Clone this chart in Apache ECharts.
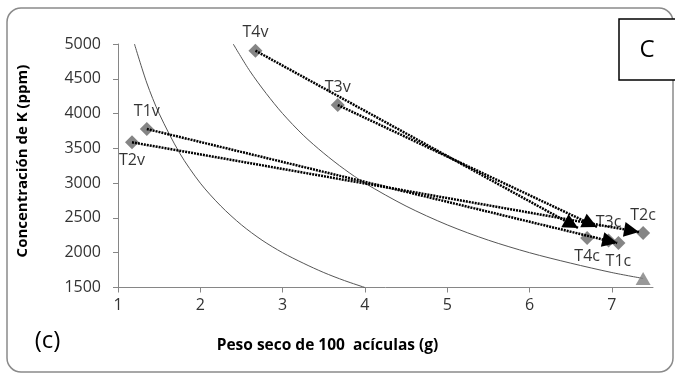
<!DOCTYPE html>
<html>
<head>
<meta charset="utf-8">
<script src="https://cdn.jsdelivr.net/npm/echarts@6/dist/echarts.min.js"></script>
<style>
  html, body { margin: 0; padding: 0; background: #fff; }
  #chart { width: 675px; height: 375px; }
</style>
</head>
<body>
<div id="chart"></div>
<script>
// ---- data ----
const xTicks = [1, 2, 3, 4, 5, 6, 7];
const yTicks = [1500, 2000, 2500, 3000, 3500, 4000, 4500, 5000];

const treatments = ['T1', 'T2', 'T3', 'T4'];
// starting points ("v")
const vWeight = [1.35, 1.17, 3.67, 2.67];
const vConc   = [3778, 3587, 4123, 4904];
// end points ("c")
const cWeight = [7.08, 7.38, 6.96, 6.70];
const cConc   = [2140, 2283, 2176, 2211];
// arrow tips
const arrowWeight = [7.065, 7.33, 6.82, 6.59];
const arrowConc   = [2140, 2298, 2370, 2355];
// reference point (triangle)
const refWeight = [7.38];
const refConc   = [1630];
// iso-content curves
const curve1X = [1.2, 1.35, 1.5, 1.75, 2.0, 2.25, 2.5, 2.75, 3.0, 3.25, 3.5, 3.75, 4.0];
const curve1Y = [5000, 4440, 4000, 3430, 3000, 2670, 2400, 2180, 2000, 1850, 1715, 1600, 1500];
const curve2X = [2.4, 2.6, 2.8, 3.0, 3.25, 3.5, 3.75, 4.0, 4.5, 5.0, 5.5, 6.0, 6.5, 7.0, 7.38];
const curve2Y = [5000, 4615, 4290, 4000, 3690, 3430, 3200, 3000, 2670, 2400, 2180, 2000, 1850, 1715, 1630];

// ---- chart ----
const FONT = '"Open Sans", sans-serif';
const vLabelPos = ['top', 'bottom', 'top', 'top'];
const cLabelPos = ['bottom', 'top', 'top', 'bottom'];

const zip = (xs, ys) => xs.map((x, i) => [x, ys[i]]);

const chart = echarts.init(document.getElementById('chart'), null, { renderer: 'canvas' });

const labelStyle = { show: true, color: '#000', fontSize: 16, fontFamily: FONT, distance: 3 };

const option = {
  animation: false,
  backgroundColor: '#fff',
  grid: { left: 118, right: 22, top: 44, bottom: 87.5, containLabel: false },
  xAxis: {
    type: 'value', min: 1, max: 7.5, interval: 1,
    axisLine: { show: true, lineStyle: { color: '#868686', width: 1 } },
    axisTick: { show: true, length: 5, lineStyle: { color: '#868686' }, customValues: xTicks },
    axisLabel: { color: '#333', fontSize: 16, fontFamily: FONT, margin: 10, customValues: xTicks,
                 formatter: v => String(v) },
    splitLine: { show: false }
  },
  yAxis: {
    type: 'value', min: 1500, max: 5000, interval: 500,
    axisLine: { show: true, lineStyle: { color: '#868686', width: 1 } },
    axisTick: { show: true, length: 5, lineStyle: { color: '#868686' }, customValues: yTicks },
    axisLabel: { color: '#333', fontSize: 16, fontFamily: FONT, margin: 17, customValues: yTicks,
                 formatter: v => String(v) },
    splitLine: { show: false }
  },
  series: [
    {
      type: 'line', data: zip(curve1X, curve1Y), smooth: 0.3, showSymbol: false, z: 1,
      lineStyle: { color: '#555', width: 1 }, silent: true
    },
    {
      type: 'line', data: zip(curve2X, curve2Y), smooth: 0.3, showSymbol: false, z: 1,
      lineStyle: { color: '#555', width: 1 }, silent: true
    },
    {
      type: 'scatter', symbol: 'diamond', symbolSize: 14, z: 2,
      itemStyle: { color: '#666' },
      data: treatments.map((t, i) => ({
        value: [vWeight[i], vConc[i]],
        label: Object.assign({}, labelStyle, { position: vLabelPos[i], formatter: t + 'v' })
      }))
    },
    {
      type: 'scatter', symbol: 'diamond', symbolSize: 14, z: 2,
      itemStyle: { color: '#666' },
      data: treatments.map((t, i) => ({
        value: [cWeight[i], cConc[i]],
        label: Object.assign({}, labelStyle, { position: cLabelPos[i], formatter: t + 'c' })
      }))
    },
    {
      type: 'scatter', symbol: 'triangle', symbolSize: [15, 13], z: 2,
      itemStyle: { color: '#808080' },
      data: zip(refWeight, refConc)
    },
    {
      type: 'scatter', data: [], z: 3,
      markLine: {
        silent: true, animation: false,
        symbol: ['none', 'triangle'],
        symbolSize: 15,
        symbolOffset: [0, [0, 7.5]],
        label: { show: false },
        lineStyle: { color: '#000', width: 2.5, type: [2, 1] },
        emphasis: { disabled: true },
        data: treatments.map((t, i) => [
          { coord: [vWeight[i], vConc[i]] },
          { coord: [arrowWeight[i], arrowConc[i]] }
        ])
      }
    }
  ],
  graphic: [
    {
      type: 'rect', z: -10, silent: true,
      shape: { x: 7, y: 8, width: 666, height: 364, r: 14 },
      style: { fill: 'none', stroke: '#8a8a8a', lineWidth: 1.5 }
    },
    {
      type: 'rect', z: 10, silent: true,
      shape: { x: 619, y: 19, width: 70, height: 61 },
      style: { fill: '#fff', stroke: '#000', lineWidth: 1.5 }
    },
    {
      type: 'text', z: 11, x: 647, y: 50, silent: true,
      style: { text: 'C', fill: '#000', font: '24px ' + FONT, align: 'center', verticalAlign: 'middle' }
    },
    {
      type: 'text', z: 11, x: 47.5, y: 341, silent: true,
      style: { text: '(c)', fill: '#000', font: '24px ' + FONT, align: 'center', verticalAlign: 'middle' }
    },
    {
      type: 'text', z: 11, x: 23, y: 161, rotation: Math.PI / 2, silent: true,
      style: { text: 'Concentración de K (ppm)', fill: '#000', font: 'bold 15px ' + FONT, align: 'center', verticalAlign: 'middle' }
    },
    {
      type: 'text', z: 11, x: 327.5, y: 346, silent: true,
      style: { text: 'Peso seco de 100  acículas (g)', fill: '#000', font: 'bold 15.5px ' + FONT, align: 'center', verticalAlign: 'middle' }
    }
  ]
};

chart.setOption(option);
</script>
</body>
</html>
